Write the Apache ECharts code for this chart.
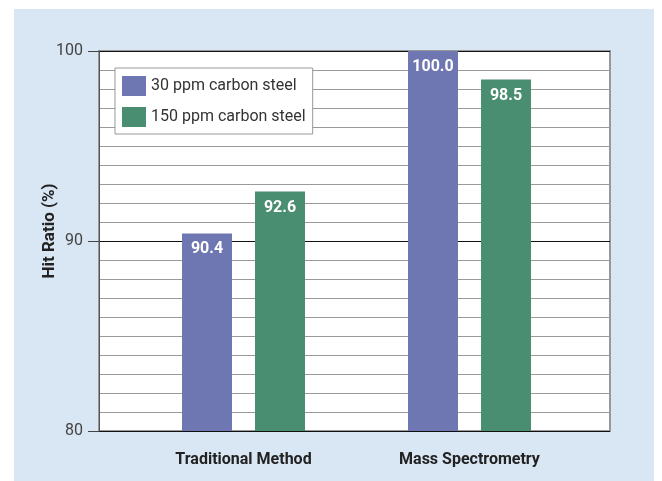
<!DOCTYPE html>
<html>
<head>
<meta charset="utf-8">
<script src="https://cdn.jsdelivr.net/npm/echarts@6/dist/echarts.min.js"></script>
<style>
html,body{margin:0;padding:0;background:#fff;}
#chart{width:662px;height:481px;}
</style>
</head>
<body>
<div id="chart"></div>
<script>
const categories = ['Traditional Method', 'Mass Spectrometry'];
const seriesNames = ['30 ppm carbon steel', '150 ppm carbon steel'];
const ppm30 = [90.4, 100.0];
const ppm150 = [92.6, 98.5];
const yTicks = [80, 90, 100];

const FONT = 'Roboto, "Liberation Sans", sans-serif';
const chart = echarts.init(document.getElementById('chart'));
chart.setOption({
  animation: false,
  graphic: [{
    type: 'rect', z: -10, silent: true,
    shape: { x: 14, y: 9, width: 640, height: 472 },
    style: { fill: '#d9e6f3' }
  }],
  legend: {
    left: 115, top: 68,
    orient: 'vertical',
    data: seriesNames,
    icon: 'rect',
    itemWidth: 24, itemHeight: 20, itemGap: 11, itemTextGap: 6,
    padding: [8, 7, 7, 7],
    backgroundColor: '#fff',
    borderColor: '#999', borderWidth: 1,
    textStyle: { fontFamily: FONT, fontSize: 16, color: '#333' }
  },
  grid: [
    { left: 99, right: 52, top: 51, bottom: 50, show: true, backgroundColor: '#fff', borderColor: '#999', borderWidth: 2 },
    { left: 130.5, right: 79.5, top: 51, bottom: 50 }
  ],
  xAxis: [
    { type: 'value', gridIndex: 0, show: false, min: 0, max: 1 },
    { type: 'category', gridIndex: 1, data: categories,
      axisLine: { show: false }, axisTick: { show: false },
      axisLabel: { interval: 0, margin: 21, fontFamily: FONT, fontSize: 16, fontWeight: 'bold', color: '#222' } }
  ],
  yAxis: [
    { type: 'value', gridIndex: 0, min: yTicks[0], max: yTicks[yTicks.length - 1], interval: 10,
      name: 'Hit Ratio (%)', nameLocation: 'middle', nameGap: 41, nameMoveOverlap: false,
      nameTextStyle: { fontFamily: FONT, fontSize: 17, fontWeight: 'bold', color: '#222', padding: [0, 0, 0, 20] },
      axisLine: { show: true, lineStyle: { color: '#555', width: 1 } },
      axisTick: { show: true, length: 11, lineStyle: { color: '#444' } },
      axisLabel: { margin: 16, fontFamily: FONT, fontSize: 16, color: '#444' },
      splitLine: { show: true, lineStyle: { color: '#111', width: 1 } },
      minorTick: { show: false, splitNumber: 10 },
      minorSplitLine: { show: true, lineStyle: { color: '#9a9a9a', width: 1 } }
    },
    { type: 'value', gridIndex: 1, min: 80, max: 100, show: false, splitLine: { show: false } }
  ],
  series: [
    { name: seriesNames[0], type: 'bar', xAxisIndex: 1, yAxisIndex: 1, data: ppm30,
      barWidth: 50, barGap: '46%', itemStyle: { color: '#6e77b1' },
      label: { show: true, position: 'insideTop', distance: 8, formatter: p => p.value.toFixed(1),
        fontFamily: FONT, fontSize: 16, fontWeight: 'bold', color: '#fff' } },
    { name: seriesNames[1], type: 'bar', xAxisIndex: 1, yAxisIndex: 1, data: ppm150,
      barWidth: 50, barGap: '46%', itemStyle: { color: '#4a8e71' },
      label: { show: true, position: 'insideTop', distance: 8, formatter: p => p.value.toFixed(1),
        fontFamily: FONT, fontSize: 16, fontWeight: 'bold', color: '#fff' } }
  ]
});
</script>
</body>
</html>
